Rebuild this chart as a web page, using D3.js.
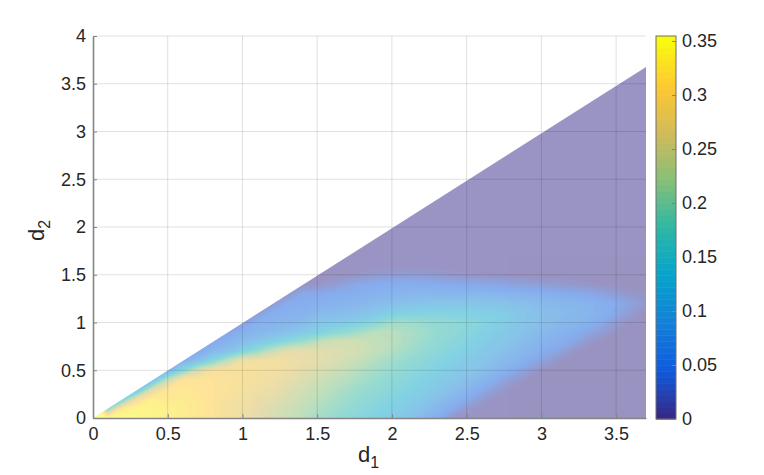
<!DOCTYPE html>
<html>
<head>
<meta charset="utf-8">
<script src="https://cdn.jsdelivr.net/npm/d3@7"></script>
<style>
body { margin: 0; background: #fff; }
text { font-family: "Liberation Sans", sans-serif; fill: #262626; }
</style>
</head>
<body>
<svg id="chart" width="764" height="475"></svg>
<script>
// axis ticks
const xTicks = [0, 0.5, 1, 1.5, 2, 2.5, 3, 3.5];
const yTicks = [0, 0.5, 1, 1.5, 2, 2.5, 3, 3.5, 4];
const barTicks = [0, 0.05, 0.1, 0.15, 0.2, 0.25, 0.3, 0.35];
const parulaStops = ["#352a87", "#0f5cdd", "#1481d6", "#06a4ca", "#2eb7a4", "#87bf77", "#d1bb59", "#fec832", "#f9fb0e"];

// surface: one list per d1 (0, 0.1 ... 3.7), values at d2 = 0, 0.1 ...
const d1Step = 0.1;
const d2Step = 0.1;
const surface = [
    [.35],
    [.35, .16],
    [.35, .32, .13],
    [.345, .34, .28, .09],
    [.34, .335, .33, .25, .08],
    [.33, .33, .32, .31, .22, .06],
    [.325, .325, .32, .315, .305, .15, .05],
    [.315, .315, .315, .31, .305, .24, .09, .04],
    [.305, .305, .305, .305, .305, .29, .15, .07, .04],
    [.29, .29, .295, .30, .30, .295, .22, .09, .06, .03],
    [.275, .28, .285, .29, .295, .295, .28, .14, .08, .055, .02],
    [.26, .265, .27, .28, .285, .29, .285, .18, .105, .07, .055, .02],
    [.245, .25, .26, .27, .28, .285, .285, .23, .13, .08, .06, .05, .015],
    [.23, .235, .245, .255, .265, .275, .28, .26, .16, .09, .07, .055, .045, .01],
    [.215, .22, .23, .24, .25, .26, .27, .265, .185, .11, .08, .06, .05, .04, .004],
    [.195, .205, .215, .225, .235, .25, .26, .26, .215, .13, .10, .075, .055, .04, .006, 0],
    [.18, .19, .20, .21, .22, .235, .25, .25, .235, .155, .11, .08, .06, .045, .015, 0, 0],
    [.165, .175, .185, .195, .21, .22, .235, .245, .24, .17, .12, .085, .065, .05, .03, .003, 0, 0],
    [.15, .16, .17, .18, .195, .205, .22, .235, .235, .195, .135, .095, .07, .055, .04, .008, 0, 0],
    [.13, .145, .155, .17, .18, .19, .205, .22, .22, .215, .16, .11, .08, .06, .045, .014, .001, 0],
    [.12, .13, .14, .155, .165, .18, .19, .205, .215, .215, .185, .13, .09, .065, .05, .02, .002, 0],
    [.10, .115, .125, .14, .15, .165, .175, .19, .20, .20, .19, .135, .095, .07, .05, .02, .002, 0],
    [.075, .095, .11, .125, .135, .15, .16, .175, .185, .19, .18, .14, .10, .07, .048, .018, 0, 0],
    [.05, .07, .09, .11, .12, .135, .145, .16, .17, .175, .17, .14, .105, .07, .045, .014, 0, 0],
    [.01, .045, .07, .09, .105, .12, .13, .145, .155, .165, .165, .14, .105, .07, .042, .01, 0, 0],
    [0, .015, .045, .07, .09, .105, .115, .13, .14, .15, .155, .135, .105, .07, .04, .008, 0, 0],
    [0, 0, .02, .045, .07, .09, .10, .115, .125, .135, .145, .13, .10, .07, .038, .006, 0, 0],
    [0, 0, 0, .02, .045, .07, .085, .10, .11, .12, .13, .125, .10, .065, .035, .004, 0, 0],
    [0, 0, 0, .005, .02, .05, .07, .085, .095, .105, .115, .115, .095, .065, .03, .002, 0, 0],
    [0, 0, 0, 0, .005, .025, .05, .07, .08, .09, .10, .10, .09, .06, .025, .001, 0, 0],
    [0, 0, 0, 0, 0, .005, .03, .05, .065, .08, .09, .09, .08, .055, .02, 0, 0, 0],
    [0, 0, 0, 0, 0, 0, .01, .035, .055, .065, .08, .085, .075, .05, .016, 0, 0, 0],
    [0, 0, 0, 0, 0, 0, 0, .012, .04, .055, .07, .075, .07, .045, .012, 0, 0, 0],
    [0, 0, 0, 0, 0, 0, 0, 0, .015, .04, .06, .07, .065, .04, .008, 0, 0, 0],
    [0, 0, 0, 0, 0, 0, 0, 0, .003, .02, .045, .055, .055, .03, .004, 0, 0, 0],
    [0, 0, 0, 0, 0, 0, 0, 0, 0, .005, .02, .04, .045, .02, .001, 0, 0, 0],
    [0, 0, 0, 0, 0, 0, 0, 0, 0, 0, .003, .018, .03, .01, 0, 0, 0, 0],
    [0, 0, 0, 0, 0, 0, 0, 0, 0, 0, 0, .002, .012, .006, 0, 0, 0, 0]
];

const d1Max = 3.7;
const d2AtEnd = 3.675;

const x = d3.scaleLinear().domain([0, d1Max]).range([93, 646]);
const y = d3.scaleLinear().domain([0, 4]).range([418, 36]);
const barY = d3.scaleLinear().domain([0, 0.3546]).range([419, 36]);

// parula colour map, 64 steps like the matlab one
const levels = 64;
const parula = d3.scaleLinear()
    .domain(parulaStops.map((c, i) => i / (parulaStops.length - 1)))
    .range(parulaStops);
const levelColor = i => parula(i / (levels - 1));

const svg = d3.select("#chart");

// surface is half see-through, so the white shows under it
svg.append("clipPath").attr("id", "triangle").append("path")
    .attr("d", d3.line()([[x(0), y(0)], [x(d1Max), y(d2AtEnd)], [x(d1Max), y(0)]]) + "Z");

const surfaceG = svg.append("g")
    .attr("clip-path", "url(#triangle)")
    .attr("opacity", 0.5);

surfaceG.append("rect")
    .attr("x", x(0)).attr("y", y(4))
    .attr("width", x(d1Max) - x(0)).attr("height", y(0) - y(4))
    .attr("fill", levelColor(0));

// flat grid for d3.contours, short lists keep their last value up to the diagonal
const nCols = surface.length;
const nRows = d3.max(surface, c => c.length);
const flat = [];
for (let j = 0; j < nRows; j++) {
    for (let i = 0; i < nCols; i++) {
        flat.push(j < surface[i].length ? surface[i][j] : surface[i][surface[i].length - 1]);
    }
}

const thresholds = d3.range(1, levels).map(i => i * barY.domain()[1] / levels);
const contours = d3.contours().size([nCols, nRows]).thresholds(thresholds)(flat);
const toPlot = d3.geoTransform({
    point: function (px, py) {
        this.stream.point(x((px - 0.5) * d1Step), y((py - 0.5) * d2Step));
    }
});
surfaceG.selectAll("path.band")
    .data(contours)
    .enter().append("path")
    .attr("class", "band")
    .attr("d", d3.geoPath(toPlot))
    .attr("fill", (d, i) => levelColor(i + 1))
    .attr("stroke", (d, i) => levelColor(i + 1))
    .attr("stroke-width", 0.4);

// grid
const grid = svg.append("g").attr("stroke", "#000").attr("stroke-opacity", 0.12).attr("stroke-width", 1);
grid.selectAll("line.gx").data(xTicks.slice(1)).enter().append("line")
    .attr("x1", d => x(d)).attr("x2", d => x(d)).attr("y1", y(0)).attr("y2", y(4));
grid.selectAll("line.gy").data(yTicks.slice(1)).enter().append("line")
    .attr("x1", x(0)).attr("x2", x(d1Max)).attr("y1", d => y(d)).attr("y2", d => y(d));

// axes
function styleAxis(g) {
    g.selectAll("path, line").attr("stroke", "#858585");
    g.select("path").attr("stroke-width", 1.6);
    g.selectAll("text").attr("font-size", 18).attr("fill", "#262626");
}
svg.append("g")
    .attr("transform", `translate(0,${y(0)})`)
    .call(d3.axisBottom(x).tickValues(xTicks).tickFormat(d3.format("~g")).tickSizeInner(-4).tickSizeOuter(0).tickPadding(9))
    .call(styleAxis);
svg.append("g")
    .attr("transform", `translate(${x(0)},0)`)
    .call(d3.axisLeft(y).tickValues(yTicks).tickFormat(d3.format("~g")).tickSizeInner(-4).tickSizeOuter(0).tickPadding(7))
    .call(styleAxis);

// axis labels with subscripts
const xLabel = svg.append("text").attr("x", 358).attr("y", 462).attr("font-size", 22);
xLabel.append("tspan").text("d");
xLabel.append("tspan").attr("dy", 6).attr("font-size", 16).text("1");
const yLabel = svg.append("text").attr("transform", "translate(44,241) rotate(-90)").attr("font-size", 22);
yLabel.append("tspan").text("d");
yLabel.append("tspan").attr("dy", 6).attr("font-size", 16).text("2");

// colorbar
const barX = 656, barW = 20;
const barStep = (barY.range()[0] - barY.range()[1]) / levels;
svg.append("g").selectAll("rect")
    .data(d3.range(levels))
    .enter().append("rect")
    .attr("x", barX)
    .attr("y", i => barY.range()[1] + (levels - 1 - i) * barStep)
    .attr("width", barW)
    .attr("height", barStep + 0.5)
    .attr("fill", levelColor);
svg.append("rect")
    .attr("x", barX).attr("y", barY.range()[1])
    .attr("width", barW).attr("height", barY.range()[0] - barY.range()[1])
    .attr("fill", "none").attr("stroke", "#6f6f6f").attr("stroke-width", 1);
svg.append("g")
    .attr("transform", `translate(${barX + barW},0)`)
    .call(d3.axisRight(barY).tickValues(barTicks).tickFormat(d3.format("~g")).tickSizeInner(-4).tickSizeOuter(0).tickPadding(6))
    .call(g => g.select("path").remove())
    .call(styleAxis);
</script>
</body>
</html>
